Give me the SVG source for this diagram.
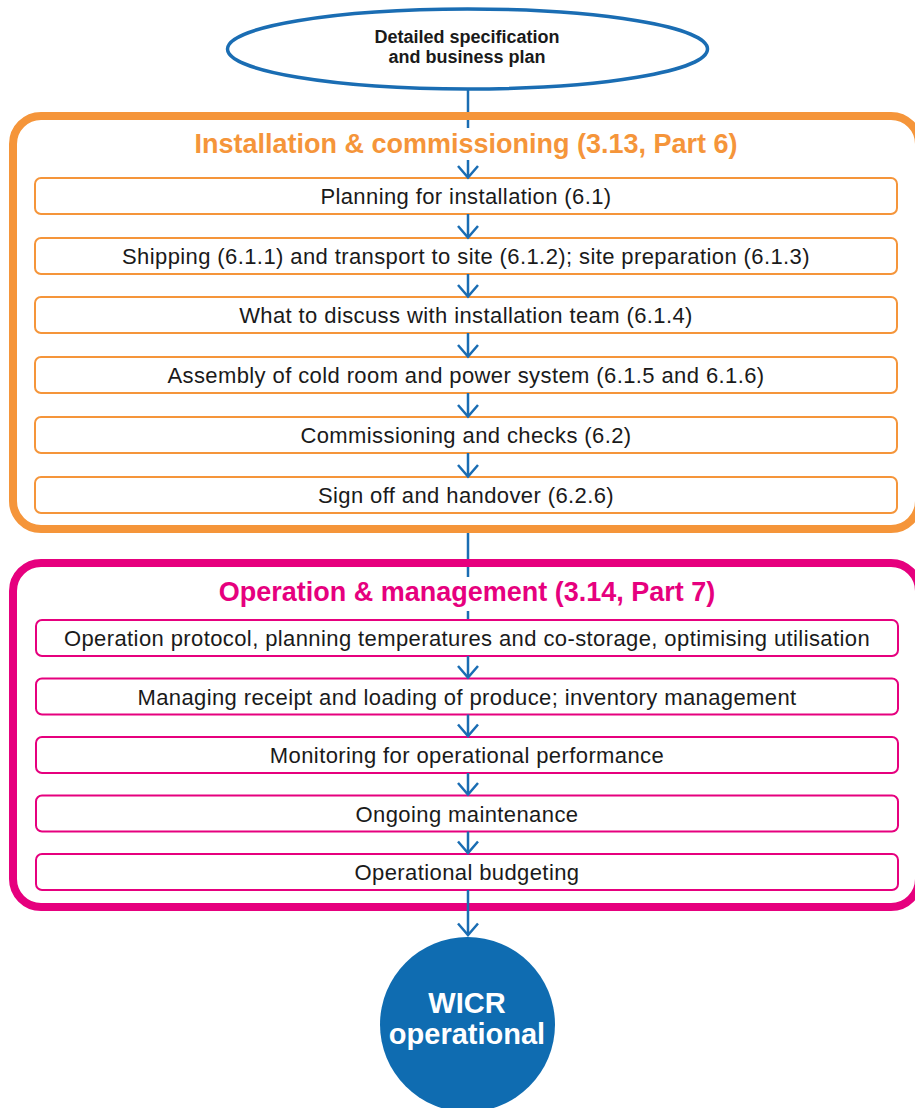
<svg xmlns="http://www.w3.org/2000/svg" width="915" height="1108" viewBox="0 0 915 1108">
<style>
text{font-family:"Liberation Sans",Arial,Helvetica,sans-serif;text-anchor:middle}
.body{font-size:22px;letter-spacing:0.4px;fill:#1a1a1a}
.ob{fill:#fff;stroke:#f5953a;stroke-width:2}
.mb{fill:#fff;stroke:#e6007e;stroke-width:2}
.conn{stroke:#1a6db3;stroke-width:2.5;fill:none}
.head{stroke:#1a6db3;stroke-width:2.5;fill:none;stroke-linejoin:miter}
</style>
<rect width="915" height="1108" fill="#fff"/>
<g id="connectors-under">
<line class="conn" x1="468" y1="89" x2="468" y2="128"/>
<line class="conn" x1="468" y1="529" x2="468" y2="577"/>
</g>
<g id="group-installation">
<rect x="13" y="116" width="906" height="413" rx="28" fill="none" stroke="#f5953a" stroke-width="8"/>
<text x="466" y="153" font-size="27" font-weight="bold" fill="#f5953a">Installation &amp; commissioning (3.13, Part 6)</text>
</g>
<g id="group-operation">
<rect x="13" y="563" width="906" height="344" rx="28" fill="none" stroke="#e6007e" stroke-width="8"/>
<text x="467" y="601" font-size="27" font-weight="bold" fill="#e6007e">Operation &amp; management (3.14, Part 7)</text>
</g>
<g id="start">
<ellipse cx="467.5" cy="49" rx="240" ry="40" fill="#fff" stroke="#1a6db3" stroke-width="3.5"/>
<text x="467" y="43" font-size="18" font-weight="bold" fill="#1a1a1a">Detailed specification</text>
<text x="467" y="63" font-size="18" font-weight="bold" fill="#1a1a1a">and business plan</text>
</g>
<g id="i1"><rect class="ob" x="35" y="178" width="862" height="36" rx="6"/><text class="body" x="466" y="204">Planning for installation (6.1)</text></g>
<g id="i2"><rect class="ob" x="35" y="238" width="862" height="36" rx="6"/><text class="body" x="466" y="264">Shipping (6.1.1) and transport to site (6.1.2); site preparation (6.1.3)</text></g>
<g id="i3"><rect class="ob" x="35" y="297" width="862" height="36" rx="6"/><text class="body" x="466" y="323">What to discuss with installation team (6.1.4)</text></g>
<g id="i4"><rect class="ob" x="35" y="357" width="862" height="36" rx="6"/><text class="body" x="466" y="383">Assembly of cold room and power system (6.1.5 and 6.1.6)</text></g>
<g id="i5"><rect class="ob" x="35" y="417" width="862" height="36" rx="6"/><text class="body" x="466" y="443">Commissioning and checks (6.2)</text></g>
<g id="i6"><rect class="ob" x="35" y="477" width="862" height="36" rx="6"/><text class="body" x="466" y="503">Sign off and handover (6.2.6)</text></g>
<g id="o1"><rect class="mb" x="36" y="620" width="862" height="36" rx="6"/><text class="body" x="467" y="646">Operation protocol, planning temperatures and co-storage, optimising utilisation</text></g>
<g id="o2"><rect class="mb" x="36" y="678.5" width="862" height="36" rx="6"/><text class="body" x="467" y="704.5">Managing receipt and loading of produce; inventory management</text></g>
<g id="o3"><rect class="mb" x="36" y="737" width="862" height="36" rx="6"/><text class="body" x="467" y="763">Monitoring for operational performance</text></g>
<g id="o4"><rect class="mb" x="36" y="795.5" width="862" height="36" rx="6"/><text class="body" x="467" y="821.5">Ongoing maintenance</text></g>
<g id="o5"><rect class="mb" x="36" y="854" width="862" height="36" rx="6"/><text class="body" x="467" y="880">Operational budgeting</text></g>
<g id="end">
<circle cx="467.5" cy="1024.5" r="87.5" fill="#0f6cb1"/>
<text x="467" y="1013" font-size="29" font-weight="bold" fill="#fff">WICR</text>
<text x="467" y="1044" font-size="29" font-weight="bold" fill="#fff">operational</text>
</g>
<g id="connectors">
<line class="conn" x1="468" y1="160" x2="468" y2="177"/>
<path class="head" d="M458,166 L468,177.5 L478,166"/>
<line class="conn" x1="468" y1="214" x2="468" y2="237"/>
<path class="head" d="M458,226 L468,237.5 L478,226"/>
<line class="conn" x1="468" y1="274" x2="468" y2="296"/>
<path class="head" d="M458,285 L468,296.5 L478,285"/>
<line class="conn" x1="468" y1="333" x2="468" y2="356"/>
<path class="head" d="M458,345 L468,356.5 L478,345"/>
<line class="conn" x1="468" y1="393" x2="468" y2="416"/>
<path class="head" d="M458,405 L468,416.5 L478,405"/>
<line class="conn" x1="468" y1="453" x2="468" y2="476"/>
<path class="head" d="M458,465 L468,476.5 L478,465"/>
<line class="conn" x1="468" y1="611" x2="468" y2="619"/>
<line class="conn" x1="468" y1="656" x2="468" y2="677.5"/>
<path class="head" d="M458,666 L468,677.5 L478,666"/>
<line class="conn" x1="468" y1="714.5" x2="468" y2="736"/>
<path class="head" d="M458,724.5 L468,736 L478,724.5"/>
<line class="conn" x1="468" y1="773" x2="468" y2="794.5"/>
<path class="head" d="M458,783 L468,794.5 L478,783"/>
<line class="conn" x1="468" y1="831.5" x2="468" y2="853"/>
<path class="head" d="M458,841.5 L468,853 L478,841.5"/>
<line class="conn" x1="468" y1="890" x2="468" y2="935"/>
<path class="head" d="M458,923.5 L468,935 L478,923.5"/>
</g>
</svg>
